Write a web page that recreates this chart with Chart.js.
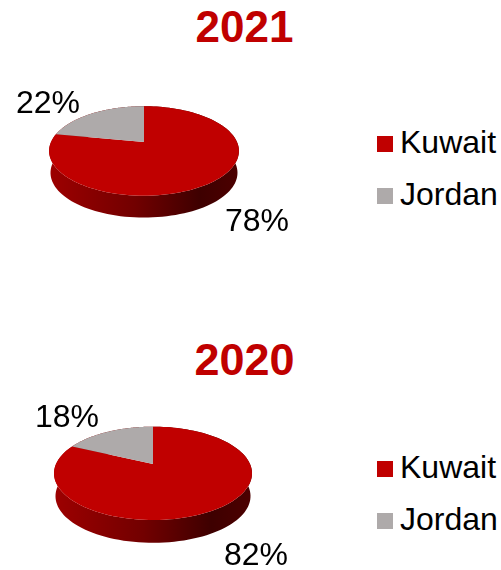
<!DOCTYPE html>
<html lang="en">

<head>
    <meta charset="UTF-8">
    <title>Kuwait and Jordan 2021 2020</title>
    <style>
        html, body {
            margin: 0;
            padding: 0;
            width: 501px;
            height: 570px;
            overflow: hidden;
            background: #fff;
            font-family: "Liberation Sans", Arial, sans-serif;
        }

        canvas, .title, .legend {
            position: absolute;
        }

        .title {
            left: 0;
            width: 489px;
            text-align: center;
            font-size: 44px;
            line-height: 50px;
            font-weight: bold;
            color: #C00000;
        }

        .legend {
            left: 377px;
            font-size: 32px;
            color: #000;
        }

        .legend div {
            height: 52px;
            line-height: 52px;
            white-space: nowrap;
        }

        .legend span {
            display: inline-block;
            width: 16px;
            height: 16px;
            margin-right: 7px;
            vertical-align: 1px;
        }
    </style>
    <script src="https://cdn.jsdelivr.net/npm/chart.js"></script>
</head>

<body>
    <div class="title" id="title0" style="top:2px"></div>
    <canvas id="pie0" width="320" height="220" style="left:-16px;top:32px"></canvas>
    <div class="legend" id="legend0" style="top:116px"></div>

    <div class="title" id="title1" style="top:335px;font-size:45px"></div>
    <canvas id="pie1" width="320" height="220" style="left:-7px;top:354px"></canvas>
    <div class="legend" id="legend1" style="top:441px"></div>

    <script>
        const categories = ['Kuwait', 'Jordan'];
        const years = ['2021', '2020'];
        const values2021 = [78, 22];
        const values2020 = [82, 18];
        const colors = ['#C00000', '#AEAAAA'];

        // tilt of the fake 3d pie
        const tilt = 0.462;
        const persp = -0.2;
        const depthRatio = 0.235;
        const rimShrink = 0.985;

        function project(arc, angle) {
            const u = Math.cos(angle);
            const v = Math.sin(angle);
            const d = 1 + persp * v;
            return {
                x: arc.x + arc.outerRadius * u / d,
                y: arc.y + arc.outerRadius * tilt * v / d
            };
        }

        function edgePoints(arc) {
            const pts = [];
            const steps = 120;
            for (let i = 0; i <= steps; i++) {
                pts.push(project(arc, arc.startAngle + (arc.endAngle - arc.startAngle) * i / steps));
            }
            return pts;
        }

        const pie3d = {
            id: 'pie3d',
            beforeDatasetsDraw(chart, args, opts) {
                const ctx = chart.ctx;
                const arcs = chart.getDatasetMeta(0).data;
                const first = arcs[0];
                const r = first.outerRadius;
                const depth = r * depthRatio;

                // side wall first, top face goes over it
                const grad = ctx.createLinearGradient(first.x - r, 0, first.x + r, 0);
                grad.addColorStop(0, '#9C0000');
                grad.addColorStop(0.45, '#720000');
                grad.addColorStop(0.8, '#3E0000');
                grad.addColorStop(1, '#4C0000');
                arcs.forEach(arc => {
                    const pts = edgePoints(arc);
                    ctx.beginPath();
                    pts.forEach((p, i) => i ? ctx.lineTo(p.x, p.y) : ctx.moveTo(p.x, p.y));
                    pts.reverse().forEach(p => {
                        ctx.lineTo(arc.x + (p.x - arc.x) * rimShrink, p.y + depth);
                    });
                    ctx.closePath();
                    ctx.fillStyle = grad;
                    ctx.fill();
                });

                arcs.forEach((arc, i) => {
                    ctx.beginPath();
                    ctx.moveTo(arc.x, arc.y);
                    edgePoints(arc).forEach(p => ctx.lineTo(p.x, p.y));
                    ctx.closePath();
                    ctx.fillStyle = colors[i];
                    ctx.fill();
                });

                ctx.fillStyle = '#000';
                ctx.font = '32px "Liberation Sans", Arial, sans-serif';
                ctx.textAlign = 'center';
                ctx.textBaseline = 'middle';
                chart.data.datasets[0].data.forEach((val, i) => {
                    ctx.fillText(val + '%', first.x + opts.labelOffsets[i][0], first.y + opts.labelOffsets[i][1]);
                });
                return false;
            }
        };

        function makePie(idx, values, radius, labelOffsets) {
            document.getElementById('title' + idx).textContent = years[idx];
            document.getElementById('legend' + idx).innerHTML = categories.map((c, i) =>
                '<div><span style="background:' + colors[i] + '"></span>' + c + '</div>').join('');

            new Chart(document.getElementById('pie' + idx), {
                type: 'pie',
                data: {
                    labels: categories,
                    datasets: [{ data: values, backgroundColor: colors, borderWidth: 0 }]
                },
                options: {
                    responsive: false,
                    animation: false,
                    radius: radius,
                    layout: { padding: 0 },
                    plugins: {
                        legend: { display: false },
                        tooltip: { enabled: false },
                        pie3d: { labelOffsets: labelOffsets }
                    }
                },
                plugins: [pie3d]
            });
        }

        makePie(0, values2021, 93, [[113, 80], [-96, -38]]);
        makePie(1, values2020, 97, [[103, 92], [-86, -46]]);
    </script>
</body>

</html>
